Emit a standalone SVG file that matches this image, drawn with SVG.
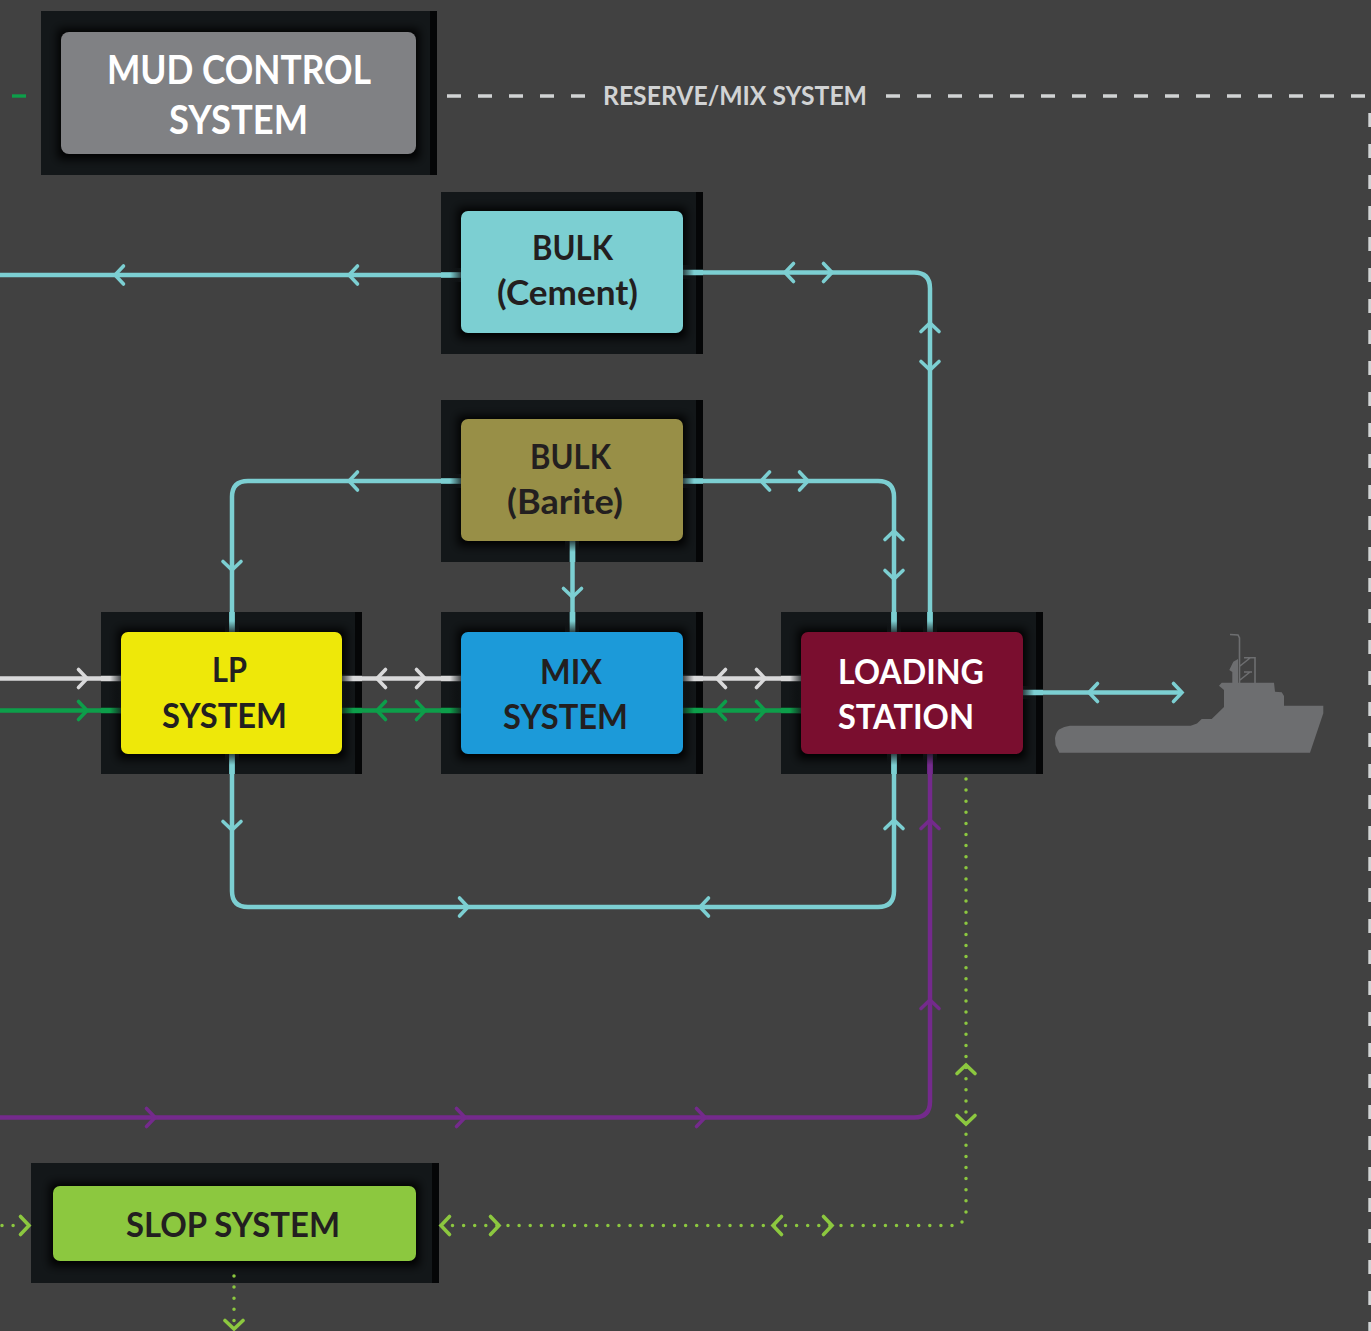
<svg xmlns="http://www.w3.org/2000/svg" width="1371" height="1331" viewBox="0 0 1371 1331">
<style>
.frame{fill:#131719}
.band{fill:#050607}
.shadow{fill:#020303;filter:url(#blur)}
.box{stroke:none}
text{font-family:Lato,"Noto Sans","Liberation Sans",sans-serif;font-weight:700;font-size:35px;fill:#231f20}
.big{font-size:41px}
.lab{font-size:27px;fill:#d1d3d4}
.w{fill:#fff}
.ln{fill:none;stroke-width:4.5}
.st{fill:none;stroke-width:5.7}
.ch{fill:none;stroke-width:3.6;stroke-linecap:round;stroke-linejoin:miter}
.cy{stroke:#7ccfd2}
.wh{stroke:#d9d9da}
.gr{stroke:#0d9e4a}
.pu{stroke:#742a8c}
.lg{stroke:#8cc83f}
.dot{fill:none;stroke:#8cc83f;stroke-width:3.5;stroke-linecap:round;stroke-dasharray:0 11.1}
.dash{fill:none;stroke:#d1d3d4;stroke-width:3.4;stroke-dasharray:14 17}
.fade{stroke:none}
.ship{fill:#6d6e70}
.mast{fill:none;stroke:#6d6e70;stroke-width:1.6}
</style>
<defs>
<filter id="blur" x="-20%" y="-20%" width="140%" height="140%"><feGaussianBlur stdDeviation="5"/></filter>
<path id="c" d="M-8.500-9 0 0-8.500 9"/>
<linearGradient id="fx"><stop offset="0" stop-color="#131719" stop-opacity="0"/><stop offset="1" stop-color="#131719" stop-opacity=".75"/></linearGradient>
<linearGradient id="fxr"><stop offset="0" stop-color="#131719" stop-opacity=".75"/><stop offset="1" stop-color="#131719" stop-opacity="0"/></linearGradient>
<linearGradient id="fy" x2="0" y2="1"><stop offset="0" stop-color="#131719" stop-opacity="0"/><stop offset="1" stop-color="#131719" stop-opacity=".75"/></linearGradient>
<linearGradient id="fyr" x2="0" y2="1"><stop offset="0" stop-color="#131719" stop-opacity=".75"/><stop offset="1" stop-color="#131719" stop-opacity="0"/></linearGradient>
</defs>
<rect width="1371" height="1331" fill="#414141"/>

<g id="frames">
<rect class="frame" x="41" y="11" width="396" height="164"/><rect class="band" x="430" y="11" width="7" height="164"/>
<rect class="frame" x="441" y="192" width="262" height="162"/><rect class="band" x="696" y="192" width="7" height="162"/>
<rect class="frame" x="441" y="400" width="262" height="162"/><rect class="band" x="696" y="400" width="7" height="162"/>
<rect class="frame" x="101" y="612" width="261" height="162"/><rect class="band" x="355" y="612" width="7" height="162"/>
<rect class="frame" x="441" y="612" width="262" height="162"/><rect class="band" x="696" y="612" width="7" height="162"/>
<rect class="frame" x="781" y="612" width="262" height="162"/><rect class="band" x="1036" y="612" width="7" height="162"/>
<rect class="frame" x="31" y="1163" width="408" height="120"/><rect class="band" x="432" y="1163" width="7" height="120"/>
<rect class="shadow" x="58" y="29" width="361" height="130"/>
<rect class="shadow" x="458" y="208" width="228" height="130"/>
<rect class="shadow" x="458" y="416" width="228" height="130"/>
<rect class="shadow" x="118" y="629" width="228" height="130"/>
<rect class="shadow" x="458" y="629" width="228" height="130"/>
<rect class="shadow" x="798" y="629" width="228" height="130"/>
<rect class="shadow" x="50" y="1183" width="369" height="83"/>
</g>

<g id="connectors">
<path class="ln cy" d="M0 275H461"/>
<path class="ln cy" d="M683 272.500H914Q930 272.500 930 288.500V632"/>
<path class="ln cy" d="M461 481H248Q232 481 232 497V632"/>
<path class="ln cy" d="M683 481H878Q894 481 894 497V632"/>
<path class="ln cy" d="M572.500 541V632"/>
<path class="ln wh" d="M0 678.500H121M342 678.500H461M683 678.500H801"/>
<path class="ln gr" d="M0 710.500H121M342 710.500H461M683 710.500H801"/>
<path class="ln cy" d="M1023 692.500H1181"/>
<path class="ln cy" d="M232 754V891Q232 907 248 907H878Q894 907 894 891V754"/>
<path class="ln pu" d="M0 1117.500H914Q930 1117.500 930 1101.500V754"/>
<path class="st cy" d="M441 275H461M683 272.500H703M441 481H461M683 481H703M572.500 541V562M572.500 612V632M232 612V632M894 612V632M930 612V632M232 754V774M894 754V774M1023 692.500H1043"/>
<path class="st wh" d="M101 678.500H121M342 678.500H362M441 678.500H461M683 678.500H703M781 678.500H801"/>
<path class="st gr" d="M101 710.500H121M342 710.500H362M441 710.500H461M683 710.500H703M781 710.500H801"/>
<path class="st pu" d="M930 754V774"/>
<path class="dot" d="M966 779V1216"/>
<circle cx="962" cy="1222" r="1.750" fill="#8cc83f"/>
<path class="dot" d="M952 1225.500H445"/>
<path class="dot" d="M2 1225.500H24"/>
<path class="dot" d="M234 1276V1322"/>
<path class="dash" d="M447 96H590"/>
<path class="dash" d="M886 96H1365"/>
<path class="dash" d="M1370 113V1331"/>
<path d="M12 96H26" stroke="#0d9e4a" stroke-width="3.400" fill="none"/>

<g class="ch cy">
<use href="#c" transform="translate(115 275) rotate(180)"/><use href="#c" transform="translate(349 275) rotate(180)"/>
<use href="#c" transform="translate(785 272.500) rotate(180)"/><use href="#c" transform="translate(832 272.500)"/>
<use href="#c" transform="translate(930 323) rotate(-90)"/><use href="#c" transform="translate(930 370) rotate(90)"/>
<use href="#c" transform="translate(349 481) rotate(180)"/><use href="#c" transform="translate(232 570) rotate(90)"/>
<use href="#c" transform="translate(761 481) rotate(180)"/><use href="#c" transform="translate(808 481)"/>
<use href="#c" transform="translate(894 531) rotate(-90)"/><use href="#c" transform="translate(894 579) rotate(90)"/>
<use href="#c" transform="translate(572.500 597) rotate(90)"/>
<use href="#c" transform="translate(1089 692.500) rotate(180)"/><use href="#c" transform="translate(1182 692.500)"/>
<use href="#c" transform="translate(232 830) rotate(90)"/><use href="#c" transform="translate(468 907)"/>
<use href="#c" transform="translate(700 907) rotate(180)"/><use href="#c" transform="translate(894 820) rotate(-90)"/>
</g>
<g class="ch wh">
<use href="#c" transform="translate(87 678.500)"/>
<use href="#c" transform="translate(377 678.500) rotate(180)"/><use href="#c" transform="translate(425 678.500)"/>
<use href="#c" transform="translate(717 678.500) rotate(180)"/><use href="#c" transform="translate(765 678.500)"/>
</g>
<g class="ch gr">
<use href="#c" transform="translate(87 710.500)"/>
<use href="#c" transform="translate(377 710.500) rotate(180)"/><use href="#c" transform="translate(425 710.500)"/>
<use href="#c" transform="translate(717 710.500) rotate(180)"/><use href="#c" transform="translate(765 710.500)"/>
</g>
<g class="ch pu">
<use href="#c" transform="translate(155 1117.500)"/><use href="#c" transform="translate(465 1117.500)"/><use href="#c" transform="translate(705 1117.500)"/>
<use href="#c" transform="translate(930 1000) rotate(-90)"/><use href="#c" transform="translate(930 820) rotate(-90)"/>
</g>
<g class="ch lg">
<use href="#c" transform="translate(966 1065) rotate(-90)"/><use href="#c" transform="translate(966 1124) rotate(90)"/>
<use href="#c" transform="translate(773 1225.500) rotate(180)"/><use href="#c" transform="translate(832 1225.500)"/>
<use href="#c" transform="translate(441 1225.500) rotate(180)"/><use href="#c" transform="translate(499 1225.500)"/>
<use href="#c" transform="translate(29 1225.500)"/>
<use href="#c" transform="translate(234 1329) rotate(90)"/>
</g>
<g id="fades">
<rect class="fade" x="450" y="268" width="11" height="14" fill="url(#fx)"/>
<rect class="fade" x="683" y="265" width="11" height="14" fill="url(#fxr)"/>
<rect class="fade" x="450" y="474" width="11" height="14" fill="url(#fx)"/>
<rect class="fade" x="683" y="474" width="11" height="14" fill="url(#fxr)"/>
<rect class="fade" x="565" y="541" width="14" height="11" fill="url(#fyr)"/>
<rect class="fade" x="565" y="621" width="14" height="11" fill="url(#fy)"/>
<rect class="fade" x="225" y="621" width="14" height="11" fill="url(#fy)"/>
<rect class="fade" x="887" y="621" width="14" height="11" fill="url(#fy)"/>
<rect class="fade" x="923" y="621" width="14" height="11" fill="url(#fy)"/>
<rect class="fade" x="225" y="754" width="14" height="11" fill="url(#fyr)"/>
<rect class="fade" x="887" y="754" width="14" height="11" fill="url(#fyr)"/>
<rect class="fade" x="923" y="754" width="14" height="11" fill="url(#fyr)"/>
<rect class="fade" x="110" y="674" width="11" height="40" fill="url(#fx)"/>
<rect class="fade" x="342" y="674" width="11" height="40" fill="url(#fxr)"/>
<rect class="fade" x="450" y="674" width="11" height="40" fill="url(#fx)"/>
<rect class="fade" x="683" y="674" width="11" height="40" fill="url(#fxr)"/>
<rect class="fade" x="790" y="674" width="11" height="40" fill="url(#fx)"/>
<rect class="fade" x="1023" y="686" width="11" height="13" fill="url(#fxr)"/>
</g>
</g>

<g id="mud-control-system">
<rect class="box" x="61" y="32" width="355" height="122" rx="8" fill="#808184"/>
<text class="w big" x="107" y="84" textLength="264" lengthAdjust="spacingAndGlyphs">MUD CONTROL</text>
<text class="w big" x="169" y="134" textLength="139" lengthAdjust="spacingAndGlyphs">SYSTEM</text>
</g>
<g id="reserve-mix-label">
<text class="lab" x="603" y="105" textLength="264" lengthAdjust="spacingAndGlyphs">RESERVE/MIX SYSTEM</text>
</g>
<g id="bulk-cement">
<rect class="box" x="461" y="211" width="222" height="122" rx="7" fill="#7ccfd2"/>
<text x="532" y="260" textLength="81" lengthAdjust="spacingAndGlyphs">BULK</text>
<text x="497" y="305" textLength="141" lengthAdjust="spacingAndGlyphs">(Cement)</text>
</g>
<g id="bulk-barite">
<rect class="box" x="461" y="419" width="222" height="122" rx="7" fill="#988f47"/>
<text x="530" y="469" textLength="81" lengthAdjust="spacingAndGlyphs">BULK</text>
<text x="507" y="514" textLength="116" lengthAdjust="spacingAndGlyphs">(Barite)</text>
</g>
<g id="lp-system">
<rect class="box" x="121" y="632" width="221" height="122" rx="7" fill="#eee809"/>
<text x="212" y="682" textLength="35" lengthAdjust="spacingAndGlyphs">LP</text>
<text x="162" y="728" textLength="125" lengthAdjust="spacingAndGlyphs">SYSTEM</text>
</g>
<g id="mix-system">
<rect class="box" x="461" y="632" width="222" height="122" rx="7" fill="#1c9ad9"/>
<text x="540" y="684" textLength="62" lengthAdjust="spacingAndGlyphs">MIX</text>
<text x="503" y="729" textLength="125" lengthAdjust="spacingAndGlyphs">SYSTEM</text>
</g>
<g id="loading-station">
<rect class="box" x="801" y="632" width="222" height="122" rx="7" fill="#7a0e2f"/>
<text class="w" x="838" y="684" textLength="146" lengthAdjust="spacingAndGlyphs">LOADING</text>
<text class="w" x="838" y="729" textLength="136" lengthAdjust="spacingAndGlyphs">STATION</text>
</g>
<g id="slop-system">
<rect class="box" x="53" y="1186" width="363" height="75" rx="7" fill="#8cc83f"/>
<text x="126" y="1237" textLength="214" lengthAdjust="spacingAndGlyphs">SLOP SYSTEM</text>
</g>
<g id="ship">
<path class="ship" d="M1059.300 752.700 1055.500 745 1055 738Q1056 732 1059 729.500 1064 726.500 1070 725.700H1190.700L1197 723.500 1201.700 719H1211.700L1224 707V690L1219 685.700 1221.700 682.700H1232.300V672L1229.300 670 1233.300 661.700 1238 659V682.700H1274L1275 691.700 1281.700 692.300 1284 696V705.700H1323.300V713.300L1310 752.700Z"/>
<path class="mast" d="M1230 634.500 1238 635 1239.500 638V683M1244 657.700H1255M1255 657V683M1244 672H1252M1240 666 1250 658M1240 680 1250 672"/>
</g>
</svg>
